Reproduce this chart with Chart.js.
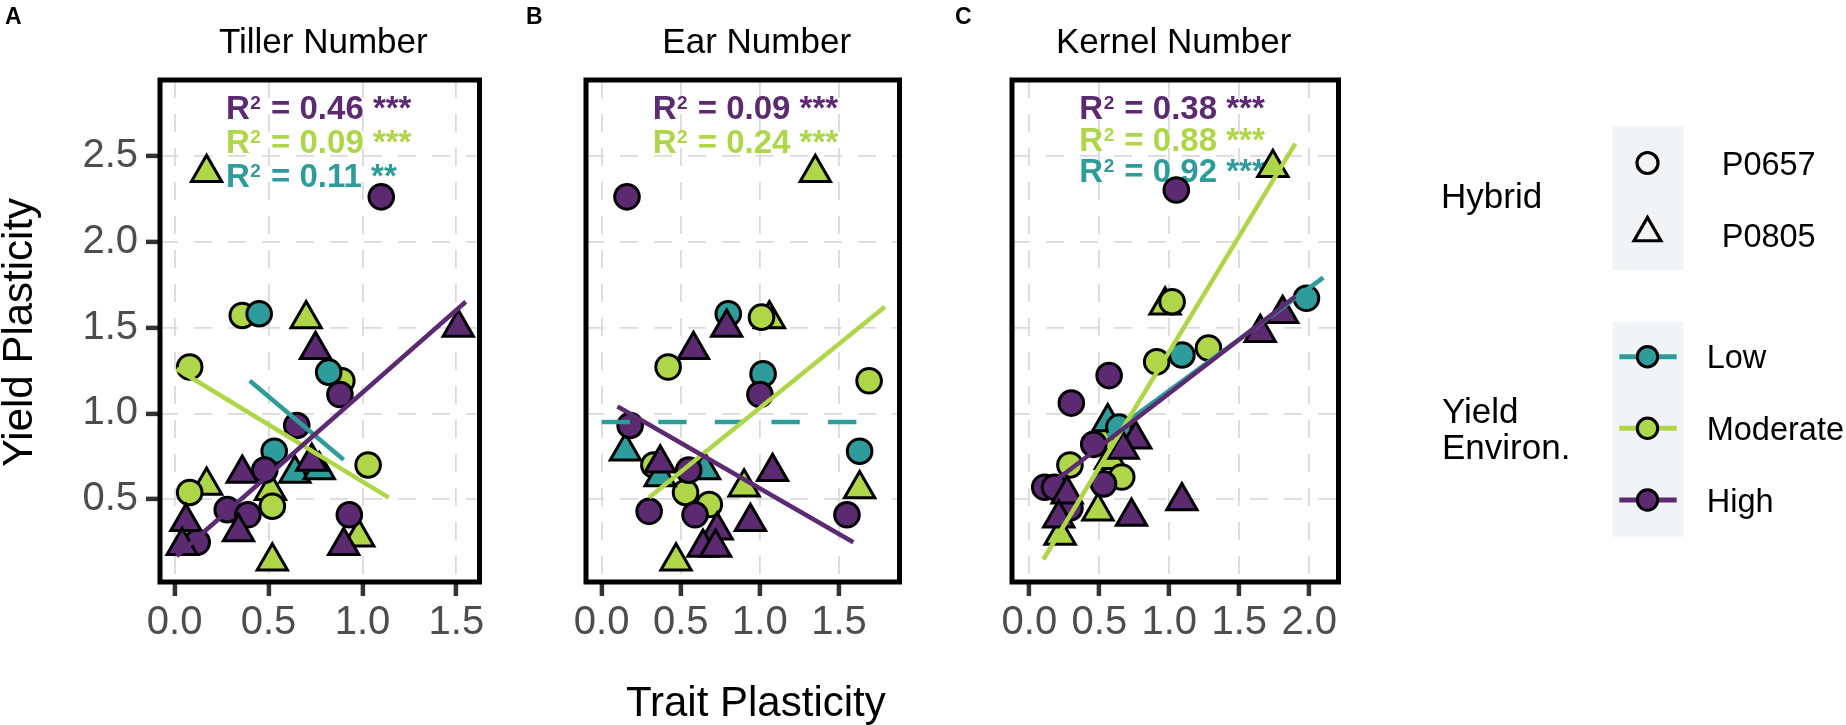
<!DOCTYPE html>
<html>
<head>
<meta charset="utf-8">
<title>Yield plasticity vs trait plasticity</title>
<script src="https://cdn.jsdelivr.net/npm/chart.js@4.4.1/dist/chart.umd.min.js"></script>
<style>
  html, body { margin:0; padding:0; background:#ffffff; }
  #fig { position:relative; width:1846px; height:725px; overflow:hidden; background:#ffffff; }
  #fig canvas { position:absolute; top:0; }
</style>
</head>
<body>
<div id="fig">
  <canvas id="panelA" width="500" height="725" style="left:0px;width:500px;height:725px"></canvas>
  <canvas id="panelB" width="420" height="725" style="left:500px;width:420px;height:725px"></canvas>
  <canvas id="panelC" width="926" height="725" style="left:920px;width:926px;height:725px"></canvas>
</div>
<script>
// ================= DATA =================
const panelTitles = ['Tiller Number', 'Ear Number', 'Kernel Number'];
const panelTags = ['A', 'B', 'C'];
const yAxisTitle = 'Yield Plasticity';
const xAxisTitle = 'Trait Plasticity';
const envLevels = ['Low', 'Moderate', 'High'];
const hybridLevels = ['P0657', 'P0805'];
const hybridLegendTitle = 'Hybrid';
const envLegendTitle = ['Yield', 'Environ.'];

const yTicks = [0.5, 1.0, 1.5, 2.0, 2.5];
const yRange = [0.019, 2.94];
const xTicksTiller = [0.0, 0.5, 1.0, 1.5];
const xTicksEar = [0.0, 0.5, 1.0, 1.5];
const xTicksKernel = [0.0, 0.5, 1.0, 1.5, 2.0];
const xRangeTiller = [-0.078, 1.623];
const xRangeEar = [-0.099, 1.882];
const xRangeKernel = [-0.124, 2.209];

// points: [trait plasticity, yield plasticity]
// ---- A: Tiller Number ----
const tillerLowP0657 = [[0.45,1.58],[0.82,1.24],[0.53,0.78]];
const tillerLowP0805 = [[0.64,0.65],[0.77,0.67]];
const tillerModP0657 = [[0.36,1.57],[0.89,1.19],[0.08,1.27],[1.03,0.70],[0.08,0.54],[0.52,0.46]];
const tillerModP0805 = [[0.17,2.40],[0.70,1.55],[0.17,0.58],[0.51,0.55],[0.52,0.14],[0.98,0.28]];
const tillerHighP0657 = [[1.10,2.26],[0.88,1.11],[0.65,0.93],[0.48,0.67],[0.28,0.44],[0.39,0.41],[0.93,0.41],[0.12,0.25]];
const tillerHighP0805 = [[0.75,1.37],[0.73,0.72],[0.36,0.65],[0.06,0.37],[0.04,0.23],[0.34,0.31],[0.90,0.23],[1.51,1.50]];
const tillerFitLow = [[0.40,1.19],[0.90,0.73]];
const tillerFitMod = [[0.01,1.26],[1.14,0.51]];
const tillerFitHigh = [[0.01,0.17],[1.55,1.65]];
const tillerR2 = [['High','0.46','***'],['Moderate','0.09','***'],['Low','0.11','**']];

// ---- B: Ear Number ----
const earLowP0657 = [[0.80,1.58],[1.02,1.23],[1.63,0.78]];
const earLowP0805 = [[0.15,0.78],[0.37,0.63],[0.65,0.67]];
const earModP0657 = [[1.01,1.56],[0.42,1.27],[0.33,0.70],[0.53,0.54],[0.68,0.47],[1.69,1.19]];
const earModP0805 = [[1.35,2.40],[1.06,1.55],[0.90,0.57],[1.63,0.56],[0.47,0.14]];
const earHighP0657 = [[0.16,2.26],[1.00,1.11],[0.18,0.93],[0.55,0.67],[0.30,0.43],[0.59,0.41],[1.55,0.41]];
const earHighP0805 = [[0.79,1.50],[0.58,1.37],[0.37,0.71],[1.08,0.66],[0.94,0.37],[0.73,0.32],[0.64,0.22],[0.72,0.22]];
const earFitLow = [[0.00,0.95],[1.74,0.95]];
const earFitMod = [[0.30,0.51],[1.79,1.62]];
const earFitHigh = [[0.10,1.04],[1.59,0.25]];
const earR2 = [['High','0.09','***'],['Moderate','0.24','***']];

// ---- C: Kernel Number ----
const kernelLowP0657 = [[1.98,1.67],[1.09,1.34],[0.64,0.92]];
const kernelLowP0805 = [[0.56,0.95]];
const kernelModP0657 = [[1.02,1.65],[1.28,1.38],[0.91,1.30],[0.52,0.85],[0.29,0.70],[0.66,0.63]];
const kernelModP0805 = [[1.74,2.43],[0.97,1.63],[0.58,0.73],[0.49,0.43],[0.22,0.29]];
const kernelHighP0657 = [[1.05,2.30],[0.57,1.22],[0.30,1.06],[0.46,0.82],[0.53,0.59],[0.11,0.57],[0.18,0.57],[0.29,0.45]];
const kernelHighP0805 = [[1.81,1.58],[1.65,1.47],[0.76,0.85],[0.67,0.79],[0.27,0.53],[1.09,0.49],[0.73,0.40],[0.21,0.39]];
const kernelFitLow = [[0.56,0.87],[2.10,1.79]];
const kernelFitMod = [[0.10,0.15],[1.90,2.57]];
const kernelFitHigh = [[0.11,0.56],[1.90,1.68]];
const kernelR2 = [['High','0.38','***'],['Moderate','0.88','***'],['Low','0.92','***']];

// ================= STYLE =================
const FONT = "'Liberation Sans', Arial, Helvetica, sans-serif";
const COL = { Low: '#2E9C9A', Moderate: '#AED648', High: '#5B2A70' };
const drawOrder = { Moderate: { P0805: 6, P0657: 5 }, Low: { P0805: 4, P0657: 3 }, High: { P0657: 2, P0805: 1 } };

function toXY(arr) { return arr.map(p => ({ x: p[0], y: p[1] })); }

function buildDatasets(groups, fits) {
  const ds = [];
  fits.forEach(f => {
    ds.push({
      label: f.env + ' fit', data: toXY(f.pts), showLine: true,
      borderColor: COL[f.env], borderWidth: 4.5, borderDash: f.dashed ? [28.3, 28.3] : [],
      borderCapStyle: 'butt', pointRadius: 0, pointHoverRadius: 0, tension: 0, order: 0, clip: false
    });
  });
  groups.forEach(g => {
    const tri = g.hybrid === 'P0805';
    ds.push({
      label: g.env + ' ' + g.hybrid, data: toXY(g.pts), showLine: false,
      pointStyle: tri ? 'triangle' : 'circle', pointRadius: tri ? 17.5 : 12.3, pointHoverRadius: tri ? 17.5 : 12.3,
      pointBackgroundColor: COL[g.env], pointBorderColor: '#000000', pointBorderWidth: 3,
      order: drawOrder[g.env][g.hybrid], clip: false
    });
  });
  return ds;
}

function drawR2(ctx, x, y, val, stars, color) {
  ctx.save();
  ctx.fillStyle = color; ctx.textAlign = 'left'; ctx.textBaseline = 'alphabetic';
  ctx.font = 'bold 33px ' + FONT;
  ctx.fillText('R', x, y);
  let cx = x + ctx.measureText('R').width + 0.5;
  ctx.font = 'bold 19px ' + FONT;
  ctx.fillText('2', cx, y - 10);
  cx += ctx.measureText('2').width + 1;
  ctx.font = 'bold 33px ' + FONT;
  ctx.fillText(' = ' + val + ' ' + stars, cx, y);
  ctx.restore();
}

function triPath(ctx, x, y, r) {
  ctx.beginPath();
  ctx.moveTo(x, y - r);
  ctx.lineTo(x + r * Math.sin(2 * Math.PI / 3), y + r / 2);
  ctx.lineTo(x - r * Math.sin(2 * Math.PI / 3), y + r / 2);
  ctx.closePath();
}

function drawLegend(ctx, off) {
  const sx = 1647.5 - off;
  ctx.save();
  ctx.fillStyle = '#F2F3F5';
  ctx.fillRect(1612.5 - off, 126.5, 71, 143.5);
  ctx.fillRect(1612.5 - off, 321.7, 71, 215);
  ctx.fillStyle = '#000000'; ctx.textAlign = 'left'; ctx.textBaseline = 'alphabetic';
  ctx.font = '35px ' + FONT;
  ctx.fillText(hybridLegendTitle, 1441 - off, 208.3);
  ctx.fillText(envLegendTitle[0], 1442 - off, 423.3);
  ctx.fillText(envLegendTitle[1], 1442 - off, 459.3);
  ctx.strokeStyle = '#000000'; ctx.lineWidth = 3.2; ctx.lineJoin = 'miter';
  ctx.beginPath(); ctx.arc(sx, 163, 10.5, 0, 2 * Math.PI); ctx.stroke();
  triPath(ctx, sx, 233, 15.5); ctx.stroke();
  ctx.font = '32.5px ' + FONT;
  ctx.fillText(hybridLevels[0], 1721.7 - off, 174.7);
  ctx.fillText(hybridLevels[1], 1721.7 - off, 246.7);
  const ys = [356.7, 428.3, 500];
  envLevels.forEach((e, i) => {
    ctx.strokeStyle = COL[e]; ctx.lineWidth = 5;
    ctx.beginPath(); ctx.moveTo(1619.3 - off, ys[i]); ctx.lineTo(1676.7 - off, ys[i]); ctx.stroke();
    ctx.beginPath(); ctx.arc(sx, ys[i], 10.2, 0, 2 * Math.PI);
    ctx.fillStyle = COL[e]; ctx.fill();
    ctx.lineWidth = 3; ctx.strokeStyle = '#000000'; ctx.stroke();
    ctx.fillStyle = '#000000';
    ctx.fillText(e, 1706.7 - off, ys[i] + 11.7);
  });
  ctx.restore();
}

function makeDeco(L) {
  return {
    id: 'deco',
    beforeDatasetsDraw(chart) {
      const ctx = chart.ctx;
      L.r2.forEach((row, i) => drawR2(ctx, L.r2X - L.off, L.r2Y[i], row[1], row[2], COL[row[0]]));
    },
    afterDatasetsDraw(chart) {
      const ctx = chart.ctx;
      const a = chart.chartArea;
      ctx.save();
      ctx.lineWidth = 5; ctx.strokeStyle = '#000000';
      ctx.strokeRect(a.left, a.top, a.right - a.left, a.bottom - a.top);
      ctx.restore();
    },
    afterDraw(chart) {
      const ctx = chart.ctx;
      ctx.save();
      ctx.fillStyle = '#000000'; ctx.textBaseline = 'alphabetic';
      ctx.font = 'bold 23px ' + FONT; ctx.textAlign = 'left';
      ctx.fillText(L.tag, L.tagX - L.off, 23.5);
      ctx.font = '35px ' + FONT; ctx.textAlign = 'center';
      ctx.fillText(L.title, L.titleX - L.off, 53.3);
      if (L.yTitle) {
        ctx.save();
        ctx.translate(31.8 - L.off, 332.5); ctx.rotate(-Math.PI / 2);
        ctx.font = '42px ' + FONT; ctx.textAlign = 'center';
        ctx.fillText(L.yTitle, 0, 0);
        ctx.restore();
      }
      if (L.xTitle) {
        ctx.font = '42px ' + FONT; ctx.textAlign = 'center';
        ctx.fillText(L.xTitle, 755.8 - L.off, 716);
      }
      ctx.restore();
      if (L.legend) drawLegend(ctx, L.off);
    }
  };
}

function makeChart(canvasId, L, groups, fits, xTicks, xRange) {
  const gridCommon = { display: true, drawOnChartArea: true, color: '#DADADA', lineWidth: 1.8,
                       tickColor: '#333333', tickWidth: 4.5, tickBorderDash: [] };
  return new Chart(document.getElementById(canvasId), {
    type: 'scatter',
    data: { datasets: buildDatasets(groups, fits) },
    options: {
      responsive: false, animation: false, events: [],
      layout: { padding: { left: 0, top: 80, right: L.padRight, bottom: 0 } },
      plugins: { legend: { display: false }, tooltip: { enabled: false }, title: { display: false } },
      scales: {
        x: {
          type: 'linear', position: 'bottom', min: xRange[0], max: xRange[1],
          afterBuildTicks: s => { s.ticks = xTicks.map(v => ({ value: v })); },
          afterFit: s => { s.height = 143; s.paddingLeft = 0; s.paddingRight = 0; },
          grid: Object.assign({}, gridCommon, { drawTicks: true, tickLength: 14 }),
          border: { display: false, dash: [18, 16] },
          ticks: { display: true, autoSkip: false, maxRotation: 0, minRotation: 0, padding: 3,
                   color: '#4D4D4D', font: { family: FONT, size: 40 },
                   callback: v => Number(v).toFixed(1) }
        },
        y: {
          type: 'linear', position: 'left', min: yRange[0], max: yRange[1],
          afterBuildTicks: s => { s.ticks = yTicks.map(v => ({ value: v })); },
          afterFit: s => { s.width = L.yWidth; s.paddingTop = 0; s.paddingBottom = 0; },
          grid: Object.assign({}, gridCommon, { drawTicks: L.yLabels, tickLength: L.yLabels ? 14 : 0 }),
          border: { display: false, dash: [18, 16] },
          ticks: { display: L.yLabels, autoSkip: false, padding: 8,
                   color: '#4D4D4D', font: { family: FONT, size: 40 },
                   callback: v => Number(v).toFixed(1) }
        }
      }
    },
    plugins: [makeDeco(L)]
  });
}

function groupsOf(lowC, lowT, modC, modT, highC, highT) {
  return [
    { env: 'Moderate', hybrid: 'P0805', pts: modT },
    { env: 'Moderate', hybrid: 'P0657', pts: modC },
    { env: 'Low', hybrid: 'P0805', pts: lowT },
    { env: 'Low', hybrid: 'P0657', pts: lowC },
    { env: 'High', hybrid: 'P0657', pts: highC },
    { env: 'High', hybrid: 'P0805', pts: highT }
  ];
}

makeChart('panelA',
  { off: 0, padRight: 14, yWidth: 160, yLabels: true, tag: panelTags[0], tagX: 5, title: panelTitles[0], titleX: 323.3,
    r2: tillerR2, r2X: 226, r2Y: [118.5, 152.5, 186.5], yTitle: yAxisTitle },
  groupsOf(tillerLowP0657, tillerLowP0805, tillerModP0657, tillerModP0805, tillerHighP0657, tillerHighP0805),
  [{ env: 'High', pts: tillerFitHigh }, { env: 'Moderate', pts: tillerFitMod }, { env: 'Low', pts: tillerFitLow }],
  xTicksTiller, xRangeTiller);

makeChart('panelB',
  { off: 500, padRight: 8.3, yWidth: 86, yLabels: false, tag: panelTags[1], tagX: 526, title: panelTitles[1], titleX: 756.7,
    r2: earR2, r2X: 652.7, r2Y: [119, 152.5], xTitle: xAxisTitle },
  groupsOf(earLowP0657, earLowP0805, earModP0657, earModP0805, earHighP0657, earHighP0805),
  [{ env: 'High', pts: earFitHigh }, { env: 'Moderate', pts: earFitMod }, { env: 'Low', pts: earFitLow, dashed: true }],
  xTicksEar, xRangeEar);

makeChart('panelC',
  { off: 920, padRight: 507.5, yWidth: 92, yLabels: false, tag: panelTags[2], tagX: 955, title: panelTitles[2], titleX: 1173.7,
    r2: kernelR2, r2X: 1079.3, r2Y: [119.3, 150.7, 182], legend: true },
  groupsOf(kernelLowP0657, kernelLowP0805, kernelModP0657, kernelModP0805, kernelHighP0657, kernelHighP0805),
  [{ env: 'High', pts: kernelFitHigh }, { env: 'Moderate', pts: kernelFitMod }, { env: 'Low', pts: kernelFitLow }],
  xTicksKernel, xRangeKernel);
</script>
</body>
</html>
